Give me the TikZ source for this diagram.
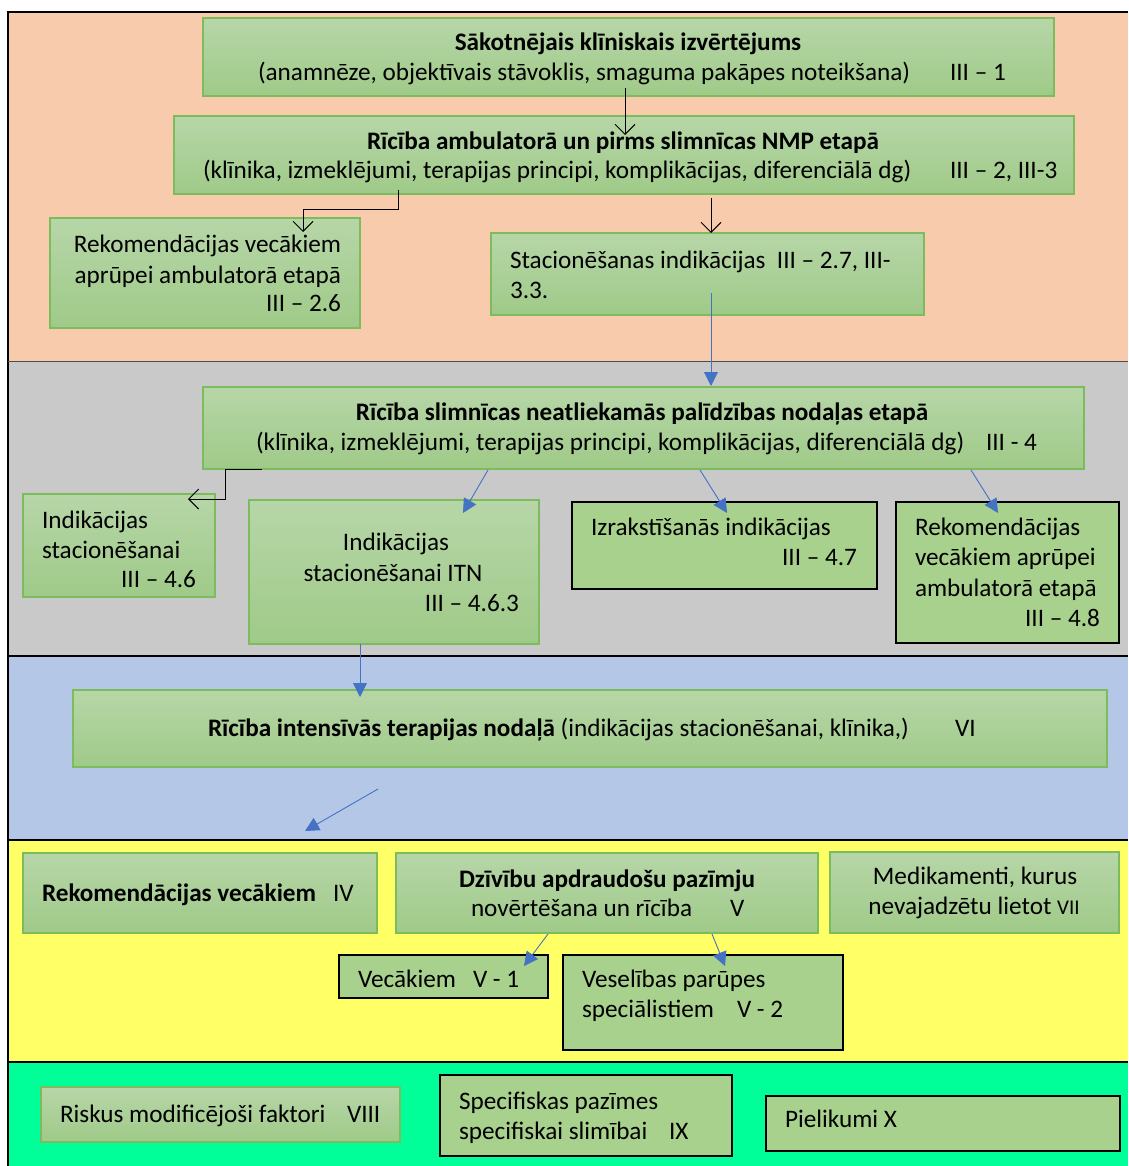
\documentclass[tikz,border=0pt]{standalone}
\usepackage{fontspec}
\setmainfont{Carlito}
\usetikzlibrary{arrows.meta,calc}
\definecolor{bandA}{HTML}{F8CBAD}
\definecolor{bandB}{HTML}{C9C9C9}
\definecolor{bandC}{HTML}{B4C7E7}
\definecolor{bandD}{HTML}{FFFF66}
\definecolor{bandE}{HTML}{00FF99}
\definecolor{gtop}{HTML}{B7D6A8}
\definecolor{gbot}{HTML}{9FCA88}
\definecolor{boxedge}{HTML}{7CBC5C}
\definecolor{flat}{HTML}{A9D18E}
\definecolor{arrowblue}{HTML}{4472C4}
\begin{document}
\begin{tikzpicture}[x=1pt,y=-1pt,
  gbox/.style={draw=boxedge, line width=1.3pt, top color=gtop, bottom color=gbot,
    inner sep=0pt, outer sep=0pt, anchor=north west},
  fbox/.style={draw=black, line width=1.3pt, fill=flat,
    inner sep=0pt, outer sep=0pt, anchor=north west},
  txt/.style={inner sep=0pt, outer sep=0pt, font=\fontsize{25.2}{30}\selectfont},
  bold/.style={txt, font=\fontsize{25.2}{30}\selectfont\bfseries},
  barb/.style={-{Straight Barb[length=10pt,width=20pt]}, line width=1pt, black},
  blu/.style={-{Triangle[length=14pt,width=14pt]}, line width=0.9pt, arrowblue},
  sep/.style={line width=1.3pt, black},
]
\useasboundingbox (0,0) rectangle (1128,1166);
\fill[white] (0,0) rectangle (1128,1166);

% horizontal bands
\fill[bandA] (8,12) rectangle (1128,361);
\fill[bandB] (8,361) rectangle (1128,656);
\fill[bandC] (8,656) rectangle (1128,840);
\fill[bandD] (8,840) rectangle (1128,1062);
\fill[bandE] (8,1062) rectangle (1128,1166);
\draw[line width=1.5pt] (1128,12) -- (8,12) -- (8,1166);
\draw[sep, line width=1pt, black!70] (8,361) -- (1128,361);
\draw[sep] (8,656) -- (1128,656);
\draw[sep, line width=2pt] (8,840) -- (1128,840);
\draw[sep] (8,1062) -- (1128,1062);

% stage 1
\node[gbox, minimum width=851, minimum height=78] (b1) at (203,18) {};
\node[bold, anchor=base] (t1a) at (628,51) {Sākotnējais klīniskais izvērtējums};
\node[txt, anchor=base west] (t1b) at (258,81) {(anamnēze, objektīvais stāvoklis, smaguma pakāpes noteikšana)};
\node[txt, anchor=base west] (t1c) at (950,81) {III – 1};

\node[gbox, minimum width=900, minimum height=78] (b2) at (174,116) {};
\node[bold, anchor=base] (t2a) at (623,150) {Rīcība ambulatorā un pirms slimnīcas NMP etapā};
\node[txt, anchor=base west] (t2b) at (203,179) {(klīnika, izmeklējumi, terapijas principi, komplikācijas, diferenciālā dg)};
\node[txt, anchor=base west] (t2c) at (950,179) {III – 2, III-3};

\node[gbox, minimum width=310, minimum height=110] (b3) at (50,218) {};
\node[txt, anchor=base east] (t3a) at (341,252) {Rekomendācijas vecākiem};
\node[txt, anchor=base east] (t3b) at (341,283) {aprūpei ambulatorā etapā};
\node[txt, anchor=base east] (t3c) at (341,311) {III – 2.6};

\node[gbox, minimum width=433, minimum height=82] (b4) at (491,233) {};
\node[txt, anchor=base west] (t4a) at (510,269) {Stacionēšanas indikācijas\ \ III – 2.7, III-};
\node[txt, anchor=base west] (t4b) at (510,298) {3.3.};

% stage 2
\node[gbox, minimum width=881, minimum height=82] (b5) at (203,387) {};
\node[bold, anchor=base] (t5a) at (642,420) {Rīcība slimnīcas neatliekamās palīdzības nodaļas etapā};
\node[txt, anchor=base west] (t5b) at (256,450) {(klīnika, izmeklējumi, terapijas principi, komplikācijas, diferenciālā dg)};
\node[txt, anchor=base west] (t5c) at (986,450) {III - 4};

\node[gbox, minimum width=192, minimum height=103] (b6) at (23,494) {};
\node[txt, anchor=base west] (t6a) at (42,528) {Indikācijas};
\node[txt, anchor=base west] (t6b) at (42,558) {stacionēšanai};
\node[txt, anchor=base east] (t6c) at (196,587) {III – 4.6};

\node[gbox, minimum width=290, minimum height=144] (b7) at (249,500) {};
\node[txt, anchor=base] (t7a) at (396,550) {Indikācijas};
\node[txt, anchor=base] (t7b) at (393,581) {stacionēšanai ITN};
\node[txt, anchor=base east] (t7c) at (519,611) {III – 4.6.3};

\node[fbox, minimum width=305, minimum height=87] (b8) at (572,502) {};
\node[txt, anchor=base west] (t8a) at (591,535) {Izrakstīšanās indikācijas};
\node[txt, anchor=base east] (t8b) at (857,565) {III – 4.7};

\node[fbox, minimum width=223, minimum height=141] (b9) at (896,502) {};
\node[txt, anchor=base west] (t9a) at (915,535) {Rekomendācijas};
\node[txt, anchor=base west] (t9b) at (915,565) {vecākiem aprūpei};
\node[txt, anchor=base west] (t9c) at (915,596) {ambulatorā etapā};
\node[txt, anchor=base east] (t9d) at (1100,626) {III – 4.8};

% stage 3
\node[gbox, minimum width=1034, minimum height=77] (b10) at (73,690) {};
\node[txt, anchor=base west] (t10a) at (208,736)
  {\textbf{Rīcība intensīvās terapijas nodaļā} (indikācijas stacionēšanai, klīnika,)};
\node[txt, anchor=base west] (t10b) at (955,736) {VI};
\coordinate (c10a) at ($(b10.south west)+(305,22)$);
\coordinate (c10b) at (305,831);

% stage 4
\node[gbox, minimum width=354, minimum height=80] (b11) at (23,853) {};
\node[bold, anchor=base west] (t11a) at (42,901) {Rekomendācijas vecākiem};
\node[txt, anchor=base west] (t11b) at (333,901) {IV};

\node[gbox, minimum width=422, minimum height=80] (b12) at (396,853) {};
\node[bold, anchor=base] (t12a) at (607,887) {Dzīvību apdraudošu pazīmju};
\node[txt, anchor=base west] (t12b) at (471,916) {novērtēšana un rīcība};
\node[txt, anchor=base west] (t12c) at (730,916) {V};

\node[gbox, minimum width=289, minimum height=81] (b13) at (830,852) {};
\node[txt, anchor=base] (t13a) at (975,884) {Medikamenti, kurus};
\node[txt, anchor=base] (t13b) at (974,914) {nevajadzētu lietot {\fontsize{21}{26}\selectfont VII}};

\node[fbox, minimum width=209, minimum height=43] (b14) at (339,955) {};
\node[txt, anchor=base west] (t14a) at (358,987) {Vecākiem};
\node[txt, anchor=base west] (t14b) at (473,987) {V - 1};

\node[fbox, minimum width=280, minimum height=95] (b15) at (563,955) {};
\node[txt, anchor=base west] (t15a) at (582,987) {Veselības parūpes};
\node[txt, anchor=base west] (t15b) at (582,1017) {speciālistiem};
\node[txt, anchor=base west] (t15c) at (737,1017) {V - 2};

% stage 5
\node[gbox, minimum width=359, minimum height=55] (b16) at (41,1087) {};
\node[txt, anchor=base west] (t16a) at (60,1122) {Riskus modificējoši faktori};
\node[txt, anchor=base west] (t16b) at (347,1122) {VIII};

\node[fbox, minimum width=292, minimum height=81] (b17) at (440,1075) {};
\node[txt, anchor=base west] (t17a) at (459,1109) {Specifiskas pazīmes};
\node[txt, anchor=base west] (t17b) at (459,1139) {specifiskai slimībai};
\node[txt, anchor=base west] (t17c) at (669,1139) {IX};

\node[fbox, minimum width=354, minimum height=55] (b18) at (766,1096) {};
\node[txt, anchor=base west] (t18) at (785,1127) {Pielikumi X};

% connectors
\draw[barb] ($(b1.south west)+(422,-8)$) -- ($(b2.north west)+(451,19)$);
\draw[barb] ($(b2.south west)+(224,-4)$) -- ++(0,20) -| ($(b3.north west)+(253,14)$);
\draw[barb] ($(b2.south west)+(537,4)$) -- ($(b4.north west)+(220,0)$);
\draw[blu] ($(b4.north west)+(220,60)$) -- ($(b5.north west)+(508,-1)$);
\draw[barb] ($(b5.south west)+(59,0)$) -- ++(-37,0) |- ($(b6.north west)+(165,5)$);
\draw[blu] ($(b5.south west)+(285,1)$) -- ($(b7.north west)+(214,13)$);
\draw[blu] ($(b5.south west)+(497,1)$) -- ($(b8.north west)+(155,11)$);
\draw[blu] ($(b5.south west)+(768,1)$) -- ($(b9.north west)+(102,11)$);
\draw[blu] ($(b7.south west)+(111,0)$) -- ($(b10.north west)+(287,7)$);
\draw[blu] (c10a) -- (c10b);
\draw[blu] ($(b12.south west)+(152,1)$) -- ($(b14.north west)+(185,11)$);
\draw[blu] ($(b12.south west)+(316,1)$) -- ($(b15.north west)+(162,11)$);
\end{tikzpicture}
\end{document}
